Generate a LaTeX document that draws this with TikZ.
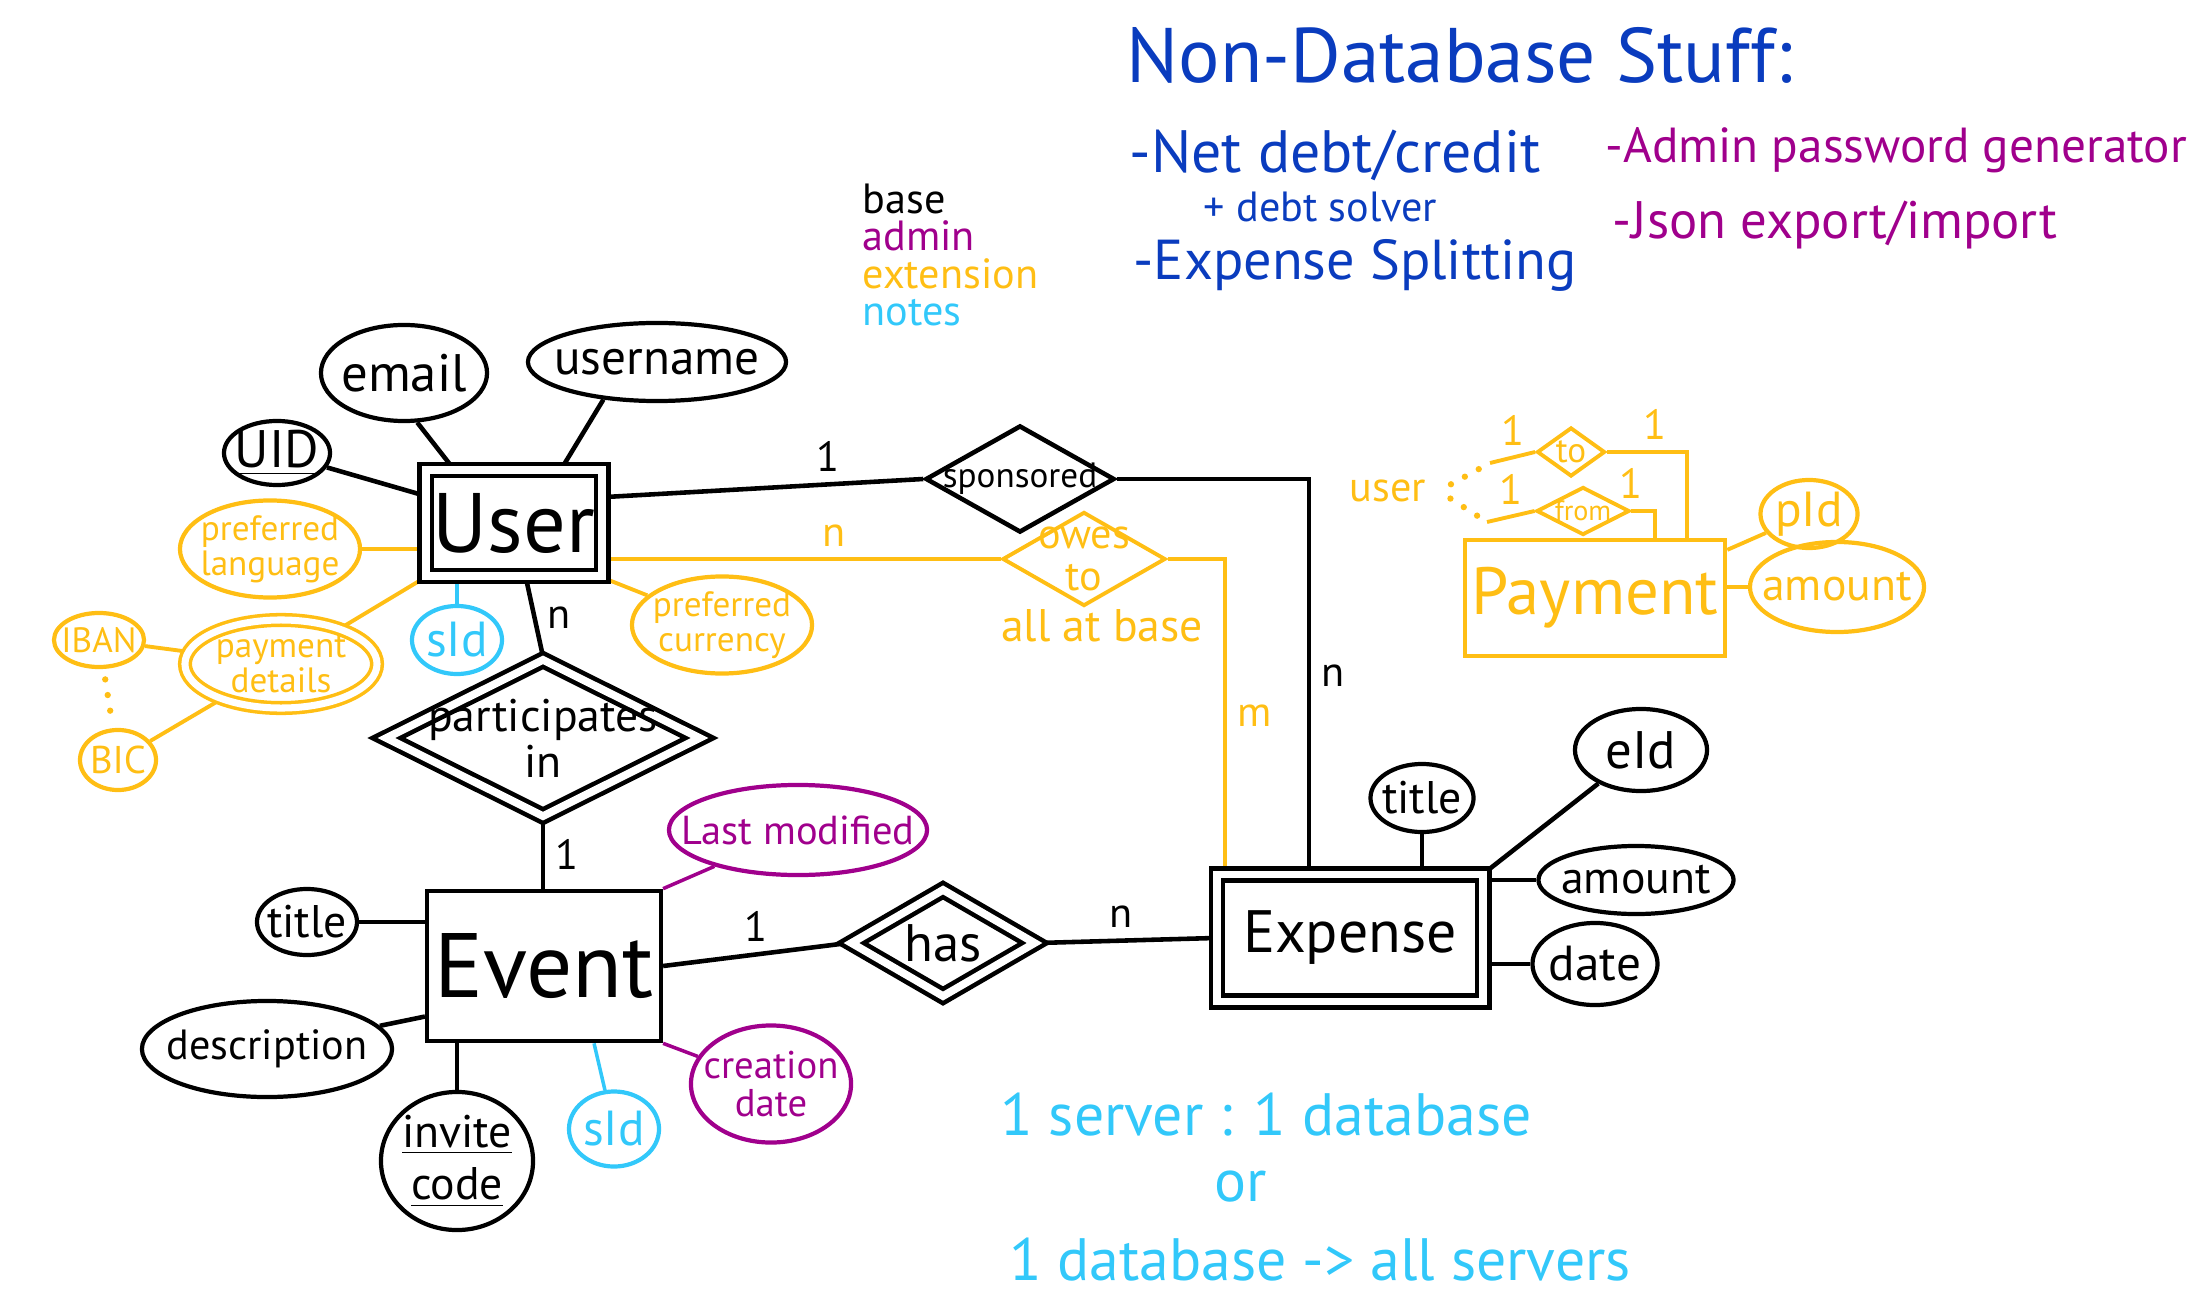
\documentclass[tikz,border=0pt]{standalone}
\usepackage{fontspec}
\setmainfont{PT Sans}
\usetikzlibrary{shapes.geometric,positioning,backgrounds}

\definecolor{adminc}{RGB}{160,0,140}
\definecolor{extc}{RGB}{255,190,20}
\definecolor{notec}{RGB}{50,200,250}
\definecolor{ndbc}{RGB}{10,60,190}
\newcommand{\fsz}[1]{\fontsize{#1}{#1}\selectfont}

\begin{document}
\begin{tikzpicture}[
  x=0.01cm, y=-0.01cm,
  font=\fsz{14},
  entity/.style={rectangle, draw, line width=1.3pt, inner sep=2pt},
  dbl/.style={double, double distance=2.2pt},
  attr/.style={ellipse, draw, line width=1.2pt, inner sep=0pt},
  rel/.style={diamond, draw, line width=1.3pt, inner sep=0pt},
  lbl/.style={align=center, inner sep=0pt, font=\fsz{14}},
  txt/.style={anchor=west, inner sep=0pt},
  link/.style={line width=1.3pt},
  xlink/.style={line width=1.1pt, draw=extc},
  alink/.style={line width=1pt, draw=adminc},
  nlink/.style={line width=1pt, draw=notec},
  card/.style={font=\fsz{12}, inner sep=3pt},
  dots/.style={draw=extc, line width=1.8pt, line cap=round, dash pattern=on 0pt off 4.5pt},
]
\useasboundingbox (0,0) rectangle (2207,1316);

\node[txt, ndbc, font=\fsz{22}] (nondb)   at (1126,55)  {Non-Database Stuff:};
\node[txt, ndbc, font=\fsz{17}] (netdebt) at (1129,155) {-Net debt/credit};
\node[txt, ndbc, font=\fsz{12}] (solver)  at (1203,207) {+ debt solver};
\node[txt, ndbc, font=\fsz{16}] (split)   at (1133,265) {-Expense Splitting};
\node[txt, adminc, font=\fsz{14}] (pwgen) at (1605,150) {-Admin password generator};
\node[txt, adminc, font=\fsz{15}] (json)  at (1612,225) {-Json export/import};

\node[txt, align=left, font=\fontsize{12}{10.6}\selectfont] (legend) at (862,255)
  {base\\\textcolor{adminc}{admin}\\\textcolor{extc}{extension}\\\textcolor{notec}{notes}};

\node[entity, dbl, minimum width=1.72cm, minimum height=1.06cm, font=\fsz{24}] (user) at (514,523) {User};
\node[entity, minimum width=2.28cm, minimum height=1.5cm, font=\fsz{26}] (event) at (544,966) {Event};
\node[entity, dbl, minimum width=2.66cm, minimum height=1.27cm, font=\fsz{17}] (expense) at (1350,938) {Expense};
\node[entity, extc, line width=1.1pt, minimum width=2.47cm, minimum height=1.16cm, font=\fsz{19}] (payment) at (1595,598) {Payment};

\node[rel, dbl, minimum width=3.15cm, minimum height=1.58cm, label={[lbl,font=\fsz{13}]center:participates\\in}] (partin) at (543,738) {};
\node[rel, dbl, minimum width=1.85cm, minimum height=1.08cm, label={[lbl,font=\fsz{15}]center:has}] (has) at (943,943) {};
\node[rel, minimum width=1.89cm, minimum height=1.07cm, label={[lbl,font=\fsz{10}]center:sponsored}] (sponsored) at (1020,479) {};
\node[rel, extc, line width=1.1pt, minimum width=1.63cm, minimum height=.94cm, label={[lbl,extc,font=\fsz{12}]center:owes\\to}] (owes) at (1084,559) {};
\node[rel, extc, line width=1.1pt, minimum width=.68cm, minimum height=.49cm, label={[lbl,extc,font=\fsz{10}]center:to}] (to) at (1571,452) {};
\node[rel, extc, line width=1.1pt, minimum width=.93cm, minimum height=.48cm, label={[lbl,extc,font=\fsz{8}]center:from}] (from) at (1583,511) {};

\node[attr, minimum width=1.66cm, minimum height=.96cm, label={[lbl,font=\fsz{15}]center:email}] (email) at (404,373) {};
\node[attr, minimum width=2.58cm, minimum height=.78cm, label={[lbl]center:username}] (uname) at (657,362) {};
\node[attr, minimum width=1.06cm, minimum height=.64cm, label={[lbl,font=\fsz{15}]center:\underline{UID}}] (uid) at (277,453) {};
\node[attr, extc, minimum width=1.8cm, minimum height=.97cm, label={[lbl,extc,font=\fsz{10}]center:preferred\\language}] (preflang) at (270,549) {};
\node[attr, extc, dbl, line width=1pt, double distance=2pt, minimum width=1.92cm, minimum height=.88cm, label={[lbl,extc,font=\fsz{10}]center:payment\\details}] (paydet) at (281,664) {};
\node[attr, extc, minimum width=.9cm, minimum height=.54cm, label={[lbl,extc,font=\fsz{10}]center:IBAN}] (iban) at (99,640) {};
\node[attr, extc, minimum width=.76cm, minimum height=.6cm, label={[lbl,extc,font=\fsz{11}]center:BIC}] (bic) at (118,760) {};
\node[attr, notec, minimum width=.9cm, minimum height=.68cm, label={[lbl,notec]center:sId}] (usid) at (457,640) {};
\node[attr, extc, minimum width=1.8cm, minimum height=.97cm, label={[lbl,extc,font=\fsz{10}]center:preferred\\currency}] (prefcur) at (722,625) {};

\node[attr, minimum width=1cm, minimum height=.66cm, label={[lbl,font=\fsz{13}]center:title}] (etitle) at (307,922) {};
\node[attr, minimum width=2.5cm, minimum height=.96cm, label={[lbl,font=\fsz{12}]center:description}] (edesc) at (267,1049) {};
\node[attr, minimum width=1.52cm, minimum height=1.38cm, label={[lbl,font=\fsz{13}]center:\underline{invite}\\[2pt]\underline{code}}] (invite) at (457,1161) {};
\node[attr, notec, minimum width=.9cm, minimum height=.75cm, label={[lbl,notec]center:sId}] (esid) at (614,1129) {};
\node[attr, adminc, minimum width=1.6cm, minimum height=1.17cm, label={[lbl,adminc,font=\fsz{11}]center:creation\\date}] (created) at (771,1084) {};
\node[attr, adminc, minimum width=2.58cm, minimum height=.9cm, label={[lbl,adminc,font=\fsz{11.5}]center:Last modified}] (modified) at (798,830) {};

\node[attr, minimum width=1.03cm, minimum height=.68cm, label={[lbl,font=\fsz{13}]center:title}] (xtitle) at (1422,798) {};
\node[attr, minimum width=1.32cm, minimum height=.82cm, label={[lbl,font=\fsz{15}]center:eId}] (eid) at (1641,750) {};
\node[attr, minimum width=1.95cm, minimum height=.68cm, label={[lbl,font=\fsz{13}]center:amount}] (xamount) at (1636,880) {};
\node[attr, minimum width=1.25cm, minimum height=.82cm, label={[lbl]center:date}] (xdate) at (1595,964) {};

\node[attr, extc, minimum width=.97cm, minimum height=.68cm, label={[lbl,extc]center:pId}] (pid) at (1809,514) {};
\node[attr, extc, minimum width=1.74cm, minimum height=.9cm, label={[lbl,extc,font=\fsz{13}]center:amount}] (pamount) at (1837,587) {};

\node[extc, font=\fsz{13}] (allbase) at (1102,626) {all at base};
\node[extc, font=\fsz{12}] (usr) at (1388,491) {user};
\coordinate (to1) at (1490,463);
\coordinate (from1) at (1487,522);

\node[notec, font=\fsz{17}] (note1) at (1266,1115) {1 server : 1 database};
\node[notec, font=\fsz{17}] (note2) at (1241,1187) {or};
\node[notec, font=\fsz{17}] (note3) at (1320,1260) {1 database -> all servers};

\begin{scope}[on background layer]
\draw[link] (uid) -- (user.163);
\draw[link] (email.-75) -- (user.138);
\draw[link] (uname.215) -- (user.49);
\draw[xlink] (preflang) -- (user.west |- preflang);
\draw[xlink] (paydet) -- (user.south west);
\draw[xlink] (iban) -- (paydet);
\draw[xlink] (bic) -- (paydet);
\draw[dots, shorten <=3pt, shorten >=3pt] (iban) -- (bic);
\draw[nlink] (usid) -- (user.south -| usid);
\draw[xlink] (user.south east) -- (prefcur);

\draw[link] ([xshift=.12cm]user.south) -- node[card, right]{n} (partin.north);
\draw[link] (partin.south) -- node[card, right]{1} (event.north -| partin.south);
\draw[link] (user.16) -- node[card, above, pos=.7]{1} (sponsored.west);
\draw[link] (sponsored.east) -| node[card, right, pos=.75]{n} ([xshift=-.41cm]expense.north);
\draw[xlink] (user.east |- owes) -- node[card, extc, above, pos=.58]{n} (owes.west);
\draw[xlink] (owes.east) -| node[card, extc, right, pos=.75]{m} ([xshift=-1.25cm]expense.north);
\draw[link] (event.east) -- node[card, above]{1} (has.west);
\draw[link] (has.east) -- node[card, above, pos=.47]{n} (expense.west);

\draw[link] (etitle) -- (event.west |- etitle);
\draw[link] (edesc) -- (event.203);
\draw[link] (invite) -- (event.south -| invite);
\draw[nlink] (esid) -- ([xshift=.5cm]event.south);
\draw[alink] (event.south east) -- (created);
\draw[alink] (event.north east) -- (modified);

\draw[link] (xtitle) -- (expense.north -| xtitle);
\draw[link] (expense.north east) -- (eid);
\draw[link] (xamount) -- (expense.east |- xamount);
\draw[link] (xdate) -- (expense.east |- xdate);

\draw[xlink] (payment.20) -- (pid);
\draw[xlink] (pamount) -- (payment.east |- pamount);
\draw[dots, shorten <=4pt] (usr.east) -- (to1);
\draw[dots, shorten <=4pt] (usr.east) -- (from1);
\draw[xlink] (to1) -- node[card, extc, above]{1} (to.west);
\draw[xlink] (from1) -- node[card, extc, above]{1} (from.west);
\draw[xlink] (to.east) -| node[card, extc, above, pos=.3]{1} ([xshift=.92cm]payment.north);
\draw[xlink] (from.east) -| node[card, extc, above left, pos=.5]{1} ([xshift=.6cm]payment.north);
\end{scope}

\end{tikzpicture}
\end{document}
